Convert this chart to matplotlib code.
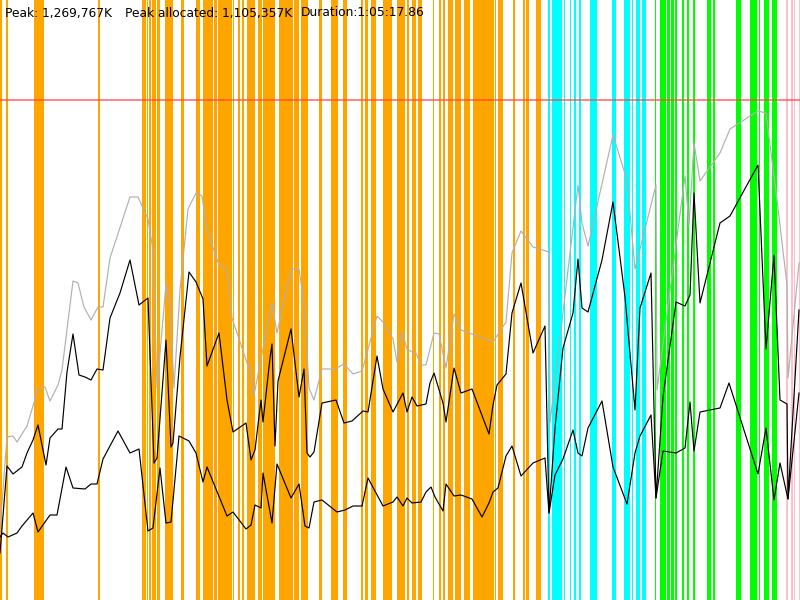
import matplotlib
matplotlib.use("Agg")
import matplotlib.pyplot as plt

# time axis is in screen-like units 0..800, memory axis 0 at top .. 600 at bottom
orange_spans = [(0, 2), (6, 8), (34, 44), (98, 100), (142, 146), (147, 148), (149, 151),
                (152, 156), (157, 160), (165, 173), (181, 184), (196, 200), (203, 213),
                (213.7, 217), (218, 232), (232.5, 233.5), (238, 240), (242, 244), (247, 255),
                (258, 262), (263, 275), (279, 293), (294, 299), (301, 308), (319, 322),
                (331, 338), (343, 347), (361, 363), (365, 368), (371, 376), (383, 392),
                (397, 405), (407, 409), (412, 416), (418, 422), (433, 434), (439, 441),
                (443, 445), (448, 453), (455, 461), (464, 470), (473, 494), (495, 496),
                (498, 503), (513, 515), (523, 525), (526, 529), (536, 541)]
cyan_spans = [(548, 550), (552, 562), (564, 565), (570, 571), (574, 576), (579, 581),
              (590, 597), (612, 616), (624, 630), (632, 633), (636, 640), (642, 646)]
green_spans = [(655, 656), (660, 666), (667, 670), (671, 674), (675, 677), (682, 684),
               (687, 689), (693, 695), (707, 711), (713, 715), (736, 741), (750, 757),
               (759, 760), (764, 769), (772, 777)]
pink_spans = [(786, 788), (791, 793), (794, 795), (799, 800)]

limit_level = 100

gray_x = [0, 7, 13, 17, 27, 38, 45, 50, 58, 62, 73, 78, 84, 91, 98, 103, 110, 130, 138, 148,
          153, 157, 166, 170, 174, 180, 188, 196, 202, 207, 219, 227, 232, 247, 250, 254, 270,
          272, 277, 291, 299, 304, 309, 314, 322, 335, 344, 353, 362, 377, 383, 393, 397, 402,
          407, 412, 416, 421, 426, 434, 439, 446, 454, 461, 493, 506, 512, 521, 533, 549, 550,
          578, 582, 588, 613, 627, 635, 656, 657, 685, 689, 694, 700, 720, 730, 758, 766, 777,
          787, 788, 799]
gray_y = [530, 437, 436, 442, 426, 389, 387, 401, 385, 370, 281, 283, 307, 320, 307, 307, 258,
          197, 197, 219, 250, 388, 284, 303, 388, 290, 209, 193, 196, 230, 265, 269, 318, 363,
          367, 395, 313, 303, 333, 269, 269, 303, 388, 400, 369, 369, 364, 374, 371, 316, 322,
          339, 362, 332, 349, 352, 353, 365, 365, 333, 334, 368, 314, 330, 342, 322, 253, 231,
          247, 252, 423, 185, 223, 246, 135, 180, 269, 185, 390, 176, 225, 143, 181, 153, 129,
          111, 113, 200, 285, 378, 263]

upper_x = [0, 7, 13, 22, 27, 33, 38, 46, 50, 58, 62, 67, 73, 79, 85, 91, 97, 103, 110, 120,
           130, 139, 148, 154, 157, 166, 171, 173, 180, 189, 196, 203, 207, 219, 227, 233, 246,
           251, 255, 261, 263, 270, 272, 275, 278, 291, 299, 304, 307, 310, 314, 322, 336, 344,
           352, 363, 368, 377, 383, 393, 403, 407, 412, 417, 426, 430, 434, 443, 446, 454, 461,
           472, 489, 493, 497, 506, 512, 521, 533, 545, 549, 555, 563, 573, 578, 582, 588, 602,
           613, 625, 635, 640, 651, 656, 663, 676, 685, 690, 694, 700, 720, 730, 758, 766, 774,
           780, 787, 788, 799]
upper_y = [553, 466, 474, 467, 453, 440, 425, 465, 438, 429, 429, 372, 334, 375, 377, 380, 369,
           370, 318, 293, 260, 305, 298, 463, 458, 340, 447, 443, 357, 272, 282, 299, 366, 333,
           400, 432, 423, 460, 450, 400, 422, 358, 344, 446, 381, 329, 397, 369, 453, 457, 452,
           403, 400, 423, 421, 411, 412, 356, 389, 412, 393, 412, 397, 406, 404, 383, 373, 403,
           422, 368, 393, 389, 434, 405, 385, 374, 313, 283, 353, 326, 513, 428, 348, 313, 259,
           308, 312, 260, 202, 297, 410, 308, 273, 498, 397, 302, 306, 295, 193, 303, 223, 216,
           165, 349, 255, 400, 404, 499, 310]

lower_x = [0, 3, 8, 17, 22, 33, 38, 50, 57, 66, 73, 85, 91, 97, 103, 118, 130, 139, 148, 153,
           160, 166, 171, 179, 189, 196, 203, 207, 227, 233, 246, 251, 255, 261, 263, 272, 277,
           291, 299, 305, 309, 314, 322, 337, 345, 353, 362, 368, 383, 393, 397, 403, 407, 412,
           421, 426, 431, 435, 443, 446, 454, 461, 472, 482, 489, 493, 498, 506, 512, 521, 533,
           545, 549, 555, 563, 573, 578, 582, 588, 602, 613, 627, 635, 640, 651, 656, 663, 676,
           685, 690, 694, 700, 720, 729, 758, 766, 774, 780, 788, 799]
lower_y = [537, 533, 537, 533, 526, 513, 532, 515, 515, 467, 488, 489, 484, 484, 459, 431, 453,
           449, 531, 528, 468, 523, 522, 436, 441, 453, 482, 467, 516, 512, 529, 525, 505, 508,
           473, 523, 464, 498, 484, 526, 528, 502, 500, 512, 510, 506, 506, 478, 506, 502, 497,
           506, 498, 503, 502, 492, 487, 497, 511, 484, 496, 495, 499, 517, 503, 492, 488, 456,
           446, 476, 463, 458, 513, 475, 459, 430, 453, 456, 428, 401, 467, 504, 453, 436, 415,
           498, 451, 453, 448, 402, 451, 412, 408, 383, 474, 428, 500, 463, 499, 393]

header = [(5, "Peak: 1,269,767K"), (125, "Peak allocated: 1,105,357K"), (301, "Duration:1:05:17.86")]

fig = plt.figure(figsize=(8, 6), dpi=100)
ax = fig.add_axes([0, 0, 1, 1])
ax.set_xlim(0, 800)
ax.set_ylim(600, 0)
ax.axis("off")

for spans, col in [(orange_spans, "#ffa500"), (cyan_spans, "#00ffff"),
                   (green_spans, "#00ff00"), (pink_spans, "#ffc0cb")]:
    for a, b in spans:
        ax.axvspan(a, b, color=col, lw=0, zorder=1)

ax.axhline(limit_level, color="#ff4040", alpha=0.75, lw=1.2, zorder=2)
ax.plot(gray_x, gray_y, color="#b0b0b0", lw=0.85, zorder=3)
ax.plot(upper_x, upper_y, color="black", lw=0.85, zorder=4)
ax.plot(lower_x, lower_y, color="black", lw=0.85, zorder=4)

for x, s in header:
    ax.text(x, 13, s, fontsize=8.8, family="DejaVu Sans", va="center", ha="left", zorder=5)

fig.savefig("out.png", dpi=100)
